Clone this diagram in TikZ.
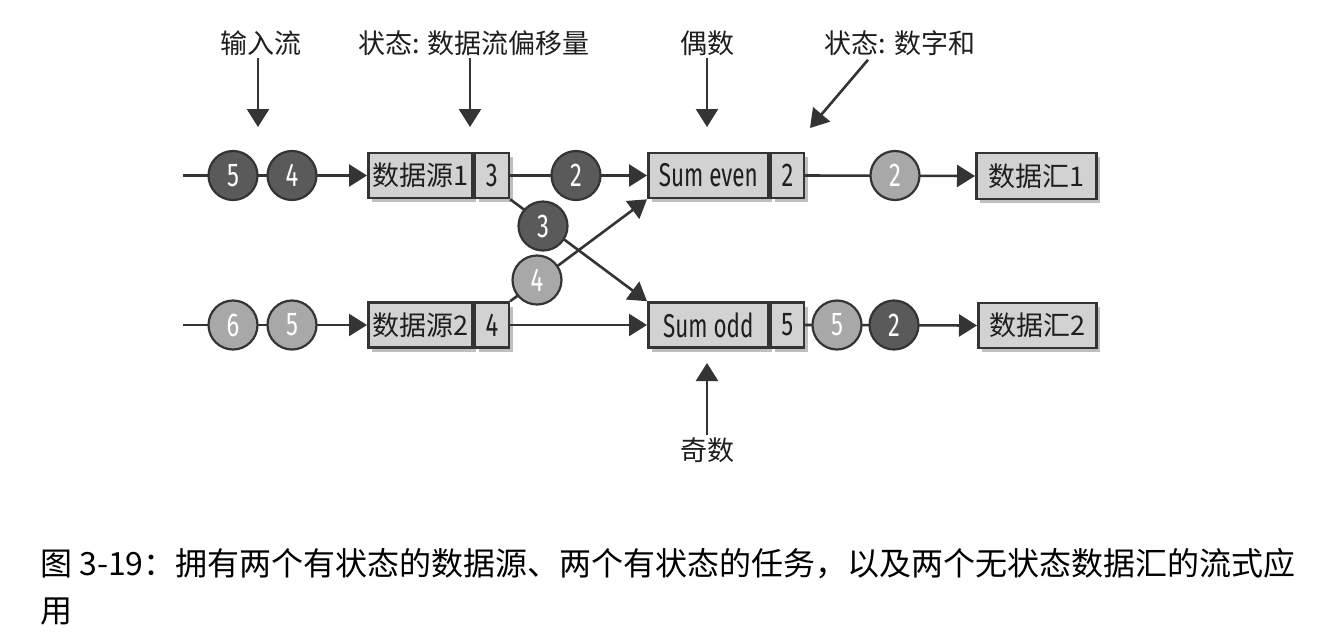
\documentclass[tikz,border=0pt]{standalone}
\usepackage{fontspec}
\usepackage{graphicx}
\setmainfont{Noto Sans CJK SC}
\newfontfamily\numfont{Fira Sans}
\usetikzlibrary{arrows.meta,shadows}
\definecolor{boxfill}{RGB}{210,210,210}
\definecolor{edge}{RGB}{52,52,52}
\definecolor{darkball}{RGB}{90,90,90}
\definecolor{lightball}{RGB}{168,168,168}
\definecolor{ink}{RGB}{30,30,30}
\newcommand{\cnum}[1]{\scalebox{0.72}[1]{#1}}
\begin{document}
\begin{tikzpicture}[x=1pt,y=-1pt,
  shadowed/.style={drop shadow={shadow xshift=4pt,shadow yshift=-4pt,opacity=0.25,fill=black}},
  box/.style={draw=edge, line width=2.6pt, fill=boxfill, minimum height=45pt, inner sep=0pt,
    anchor=west, text=ink, shadowed, font=\fontsize{27}{27}\selectfont},
  statebox/.style={box, minimum width=34pt, font=\numfont\fontsize{33}{33}\selectfont},
  ball/.style={circle, draw=edge, line width=2.2pt, minimum size=49pt, inner sep=0pt,
    text=white, font=\numfont\fontsize{33}{33}\selectfont},
  darkb/.style={ball, fill=darkball},
  lightb/.style={ball, fill=lightball},
  flow/.style={draw=edge, line width=2.6pt},
  arr/.style={flow, -{Triangle[length=18pt,width=22pt]}},
  lab/.style={font=\fontsize{27}{27}\selectfont, inner sep=2pt, text=ink},
  captext/.style={font=\fontsize{32}{32}\selectfont, inner sep=0pt, anchor=base west, text=black},
]
\fill[white] (0,0) rectangle (1344,638);
\useasboundingbox (0,0) rectangle (1344,638);

% boxes
\node[box, minimum width=104pt] (src1) at (367,175.5) {数据源1};
\node[statebox] (src1s) at (src1.east) {\cnum{3}};
\node[box, minimum width=104pt] (src2) at (367,325) {数据源2};
\node[statebox] (src2s) at (src2.east) {\cnum{4}};
\node[box, minimum width=120pt, font=\numfont\fontsize{33}{33}\selectfont] (sumE) at (647,175.5) {\scalebox{0.68}[1]{Sum even}};
\node[statebox, minimum width=33pt] (sumEs) at (sumE.east) {\cnum{2}};
\node[box, minimum width=120pt, font=\numfont\fontsize{33}{33}\selectfont] (sumO) at (647,325) {\scalebox{0.68}[1]{Sum odd}};
\node[statebox, minimum width=33pt] (sumOs) at (sumO.east) {\cnum{5}};
\node[box, minimum width=120pt, minimum height=46pt] (sink1) at (975,176) {数据汇1};
\node[box, minimum width=118pt] (sink2) at (977,325.5) {数据汇2};

% free ends
\coordinate (in1) at (183,175.5);
\coordinate (in2) at (183,325);

% connectors
\draw[arr] (in1) -- (src1.west);
\draw[arr] (in2) -- (src2.west);
\draw[arr] (src1s.east) -- (sumE.west);
\draw[arr] (src2s.east) -- (sumO.west);
\draw[arr] (src1s.south east) -- (sumO.north west);
\draw[arr] (src2s.north east) -- (sumE.south west);
\draw[arr] (sumEs.east) -- (sink1.west);
\draw[arr] (sumOs.east) -- (sink2.west);

% balls
\node[darkb] (b5a) at (233,175.5) {\cnum{5}};
\node[darkb] (b4a) at (292,175.5) {\cnum{4}};
\node[lightb] (b6b) at (233,325) {\cnum{6}};
\node[lightb] (b5b) at (292,325) {\cnum{5}};
\node[darkb] (b2a) at (576,175.5) {\cnum{2}};
\node[darkb] (b3) at (543,226) {\cnum{3}};
\node[lightb] (b4) at (537,280) {\cnum{4}};
\node[lightb] (b2b) at (895,175.5) {\cnum{2}};
\node[lightb] (b5c) at (837,325) {\cnum{5}};
\node[darkb] (b2c) at (894,325) {\cnum{2}};

% labels
\node[lab] (l1) at (261,43) {输入流};
\node[lab] (l2) at (474,43) {状态: 数据流偏移量};
\node[lab] (l3) at (707,43) {偶数};
\node[lab] (l4) at (900,43) {状态: 数字和};
\node[lab] (l5) at (707,450) {奇数};
\coordinate (e1) at (258,127);
\coordinate (e2) at (470,127);
\coordinate (e3) at (707,127);
\coordinate (e4) at (810,128);
\coordinate (e5) at (707,363);
\draw[arr] (l1.south -| e1) -- (e1);
\draw[arr] (l2.south -| e2) -- (e2);
\draw[arr] (l3.south -| e3) -- (e3);
\draw[arr] ([xshift=-32pt,yshift=-2pt]l4.south) -- (e4);
\draw[arr] (l5.north -| e5) -- (e5);

% caption
\node[captext] (cap1) at (40,575) {图 3-19：拥有两个有状态的数据源、两个有状态的任务，以及两个无状态数据汇的流式应};
\node[captext] (cap2) at (40,622) {用};
\end{tikzpicture}
\end{document}
